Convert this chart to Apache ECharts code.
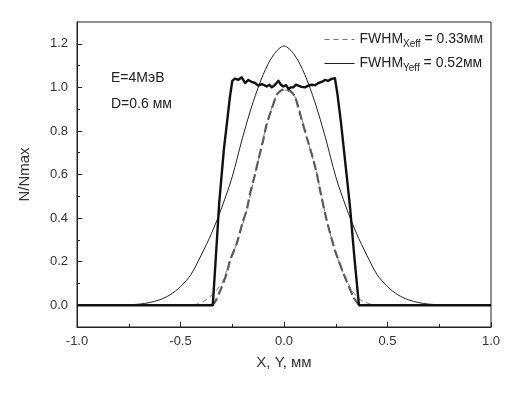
<!DOCTYPE html>
<html>
<head>
<meta charset="utf-8">
<script src="https://cdn.jsdelivr.net/npm/echarts@6/dist/echarts.min.js"></script>
<style>
html,body{margin:0;padding:0;background:#fff;}
#chart{width:515px;height:394px;}
</style>
</head>
<body>
<div id="chart"></div>
<script>
// ---- Data ----
// Thick solid: flat-top profile
var flatX = [-1.0, -0.344, -0.33, -0.313, -0.29, -0.274, -0.262, -0.25, -0.237, -0.22, -0.204, -0.188, -0.172, -0.156, -0.14, -0.124, -0.108, -0.096, -0.084, -0.07, -0.059, -0.045, -0.027, -0.015, -0.003, 0.01, 0.021, 0.033, 0.045, 0.057, 0.069, 0.085, 0.101, 0.118, 0.134, 0.15, 0.166, 0.182, 0.198, 0.214, 0.23, 0.246, 0.258, 0.275, 0.30, 0.319, 0.34, 0.362, 1.0];
var flatY = [0, 0, 0.21, 0.47, 0.72, 0.85, 0.95, 1.03, 1.04, 1.035, 1.046, 1.02, 1.034, 1.025, 1.02, 1.008, 1.015, 1.01, 1.004, 1.012, 1.0, 1.01, 1.03, 1.012, 1.004, 1.01, 0.993, 1.0, 1.0, 1.012, 1.008, 1.002, 1.0, 1.008, 1.012, 1.01, 1.02, 1.025, 1.034, 1.03, 1.039, 1.042, 0.97, 0.84, 0.62, 0.45, 0.22, 0, 0];

// Thin solid: FWHM_Yeff profile
var yeffX = [-1.0, -0.8, -0.75, -0.7, -0.65, -0.6, -0.55, -0.5, -0.45, -0.4, -0.35, -0.3, -0.25, -0.2, -0.15, -0.1, -0.05, 0.0, 0.05, 0.1, 0.15, 0.2, 0.25, 0.3, 0.35, 0.4, 0.45, 0.5, 0.55, 0.6, 0.65, 0.7, 0.75, 0.8, 1.0];
var yeffY = [0, 0, 0.002, 0.005, 0.012, 0.025, 0.048, 0.085, 0.14, 0.23, 0.33, 0.45, 0.59, 0.77, 0.93, 1.06, 1.15, 1.19, 1.15, 1.06, 0.93, 0.77, 0.59, 0.45, 0.33, 0.23, 0.14, 0.085, 0.048, 0.025, 0.012, 0.005, 0.002, 0, 0];

// Thick dashed: X profile (triangular)
var xeffX = [-0.35, -0.333, -0.30, -0.277, -0.26, -0.228, -0.20, -0.18, -0.164, -0.14, -0.124, -0.10, -0.084, -0.06, -0.035, -0.015, 0.0, 0.02, 0.035, 0.053, 0.08, 0.11, 0.135, 0.158, 0.174, 0.206, 0.246, 0.287, 0.335, 0.351, 0.365];
var xeffY = [0, 0.015, 0.085, 0.146, 0.207, 0.284, 0.38, 0.437, 0.513, 0.6, 0.667, 0.76, 0.83, 0.9, 0.966, 0.985, 0.99, 0.99, 0.98, 0.958, 0.87, 0.77, 0.69, 0.606, 0.529, 0.39, 0.253, 0.146, 0.038, 0.015, 0];

// Thin dashed: X profile with tails (legend entry)
var xtailX = [-1.0, -0.45, -0.42, -0.38, -0.34, -0.30, -0.26, -0.228, -0.18, -0.124, -0.084, -0.035, 0.0, 0.053, 0.11, 0.158, 0.206, 0.246, 0.287, 0.327, 0.36, 0.39, 0.415, 0.45, 1.0];
var xtailY = [0, 0, 0.005, 0.022, 0.055, 0.1, 0.207, 0.284, 0.437, 0.667, 0.83, 0.966, 0.99, 0.958, 0.77, 0.606, 0.39, 0.253, 0.146, 0.07, 0.03, 0.015, 0.006, 0, 0];

var yMajorTicks = [0.0, 0.2, 0.4, 0.6, 0.8, 1.0, 1.2];
var yMinorTicks = [0.1, 0.3, 0.5, 0.7, 0.9, 1.1];

var legendX = 'FWHM Xeff';
var legendY = 'FWHM Yeff';

function pairs(xs, ys) { return xs.map(function (x, i) { return [x, ys[i]]; }); }

var chart = echarts.init(document.getElementById('chart'), null, {renderer: 'canvas'});
var FONT = 'Liberation Sans, Arial, sans-serif';
var rich = {
  a: {fontFamily: FONT, fontSize: 14, color: '#222', lineHeight: 18},
  b: {fontFamily: FONT, fontSize: 10, color: '#222', lineHeight: 18, padding: [9, 0, 0, 0]}
};
chart.setOption({
  animation: false,
  backgroundColor: '#fff',
  grid: {left: 77, right: 24, top: 22, bottom: 67, show: true, borderColor: '#222', borderWidth: 1, backgroundColor: 'transparent'},
  legend: [
    {data: [legendX], left: 319, top: 25, itemWidth: 30, itemHeight: 14, itemGap: 5,
     lineStyle: {width: 1, color: '#777', type: [5, 4]},
     itemStyle: {opacity: 0, borderWidth: 0},
     formatter: function () { return '{a|FWHM}{b|Xeff}{a| = 0.33мм}'; },
     textStyle: {rich: rich}},
    {data: [legendY], left: 319, top: 49, itemWidth: 30, itemHeight: 14, itemGap: 5,
     lineStyle: {width: 1, color: '#222'},
     itemStyle: {opacity: 0, borderWidth: 0},
     formatter: function () { return '{a|FWHM}{b|Yeff}{a| = 0.52мм}'; },
     textStyle: {rich: rich}}
  ],
  xAxis: {
    type: 'value', min: -1.0, max: 1.0, interval: 0.5,
    name: 'X, Y, мм', nameLocation: 'middle', nameGap: 28,
    nameTextStyle: {fontFamily: FONT, fontSize: 15, color: '#333'},
    axisLine: {show: true, onZero: false, lineStyle: {color: '#222', width: 1}},
    axisTick: {show: true, inside: true, length: 5, lineStyle: {color: '#222'}},
    minorTick: {show: true, splitNumber: 2, length: 3, lineStyle: {color: '#222'}},
    axisLabel: {fontFamily: FONT, fontSize: 13, color: '#333', margin: 8,
      formatter: function (v) { return v.toFixed(1); }},
    splitLine: {show: false}
  },
  yAxis: [
    {
      type: 'value', min: -0.1, max: 1.3,
      name: 'N/Nmax', nameLocation: 'middle', nameGap: 45,
      nameTextStyle: {fontFamily: FONT, fontSize: 15, color: '#333'},
      axisLine: {show: true, onZero: false, lineStyle: {color: '#222', width: 1}},
      axisTick: {show: true, inside: true, length: 5, customValues: yMajorTicks, lineStyle: {color: '#222'}},
      axisLabel: {fontFamily: FONT, fontSize: 13, color: '#333', margin: 9, customValues: yMajorTicks,
        formatter: function (v) { return v.toFixed(1); }},
      splitLine: {show: false}
    },
    {
      type: 'value', min: -0.1, max: 1.3, position: 'left', offset: 0,
      axisLine: {show: true, onZero: false, lineStyle: {color: '#222', width: 1}},
      axisTick: {show: true, inside: true, length: 3, customValues: yMinorTicks, lineStyle: {color: '#222', width: 1}},
      axisLabel: {show: false},
      splitLine: {show: false}
    }
  ],
  graphic: [
    {type: 'text', left: 111, top: 71, style: {text: 'E=4МэВ', fontFamily: FONT, fontSize: 14, fill: '#222'}},
    {type: 'text', left: 111, top: 97, style: {text: 'D=0.6 мм', fontFamily: FONT, fontSize: 14, fill: '#222'}}
  ],
  series: [
    {name: legendY, type: 'line', symbol: 'none', data: pairs(yeffX, yeffY), smooth: 0.3,
     lineStyle: {color: '#222', width: 1}, itemStyle: {color: '#222'}, z: 2},
    {name: legendX, type: 'line', symbol: 'none', data: pairs(xtailX, xtailY), smooth: 0.2,
     lineStyle: {color: '#777', width: 1, type: [5, 4]}, itemStyle: {color: '#777'}, z: 3},
    {name: 'X thick', type: 'line', symbol: 'none', data: pairs(xeffX, xeffY), smooth: 0.2,
     lineStyle: {color: '#5a5a5a', width: 2.2, type: [9, 4]}, itemStyle: {color: '#5a5a5a'}, z: 4},
    {name: 'flat', type: 'line', symbol: 'none', data: pairs(flatX, flatY),
     lineStyle: {color: '#111', width: 2.4, join: 'round'}, itemStyle: {color: '#111'}, z: 5}
  ]
});
</script>
</body>
</html>
